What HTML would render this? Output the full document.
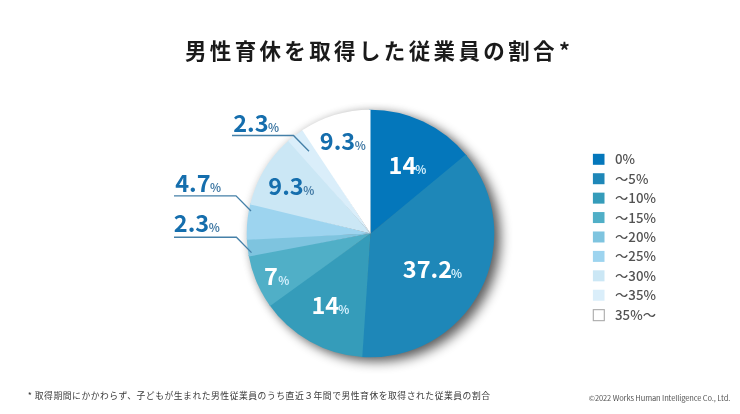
<!DOCTYPE html>
<html><head><meta charset="utf-8">
<style>
html,body{margin:0;padding:0;background:#fff;}
body{width:740px;height:414px;position:relative;overflow:hidden;font-family:"Liberation Sans","Noto Sans CJK JP",sans-serif;}
svg{position:absolute;left:0;top:0;will-change:transform;}
.lbl{font-family:"Noto Sans CJK JP","Liberation Sans",sans-serif;font-weight:700;}
.pct{font-family:"Noto Sans CJK JP","Liberation Sans",sans-serif;font-weight:700;}
.leg{font-family:"Noto Sans CJK JP","Liberation Sans",sans-serif;font-weight:500;fill:#525252;}
</style></head><body>
<svg width="740" height="414" viewBox="0 0 740 414">
<defs>
<clipPath id="pc"><circle cx="370.5" cy="233.5" r="123.8"/></clipPath>
<filter id="sh" x="-20%" y="-20%" width="140%" height="140%">
<feGaussianBlur stdDeviation="6"/>
</filter>
<filter id="sh2" x="-20%" y="-20%" width="140%" height="140%">
<feGaussianBlur stdDeviation="4"/>
</filter>
</defs>
<text x="184.9" y="58.6" font-family="&quot;Noto Sans CJK JP&quot;, &quot;Liberation Sans&quot;, sans-serif" font-weight="700" font-size="21.5" letter-spacing="3.37" fill="#1a1a1a">男性育休を取得した従業員の割<tspan>合</tspan><tspan dx="1.1">*</tspan></text>
<circle cx="370.5" cy="233.5" r="123.8" fill="#000" opacity="0.12" filter="url(#sh2)"/>
<circle cx="377.0" cy="238.0" r="123.8" fill="#000" opacity="0.6" filter="url(#sh)"/>
<path d="M370.5,233.5 L368.988,109.709 A123.8,123.8 0 0 1 466.779,155.674 Z" fill="#0477bb"/>
<path d="M370.5,233.5 L465.821,154.504 A123.8,123.8 0 0 1 360.787,356.918 Z" fill="#1e87b8"/>
<path d="M370.5,233.5 L362.295,357.028 A123.8,123.8 0 0 1 269.213,304.686 Z" fill="#359cba"/>
<path d="M370.5,233.5 L270.090,305.918 A123.8,123.8 0 0 1 248.581,254.998 Z" fill="#50afc7"/>
<path d="M370.5,233.5 L248.853,256.486 A123.8,123.8 0 0 1 246.791,238.252 Z" fill="#7ec4df"/>
<path d="M370.5,233.5 L246.859,239.763 A123.8,123.8 0 0 1 250.536,202.922 Z" fill="#9dd4ef"/>
<path d="M370.5,233.5 L250.171,204.389 A123.8,123.8 0 0 1 289.247,140.095 Z" fill="#cbe7f5"/>
<path d="M370.5,233.5 L288.112,141.095 A123.8,123.8 0 0 1 303.527,129.379 Z" fill="#daeefa"/>
<path d="M370.5,233.5 L302.260,130.205 A123.8,123.8 0 0 1 370.500,109.700 Z" fill="#ffffff"/>
<g fill="none" stroke="#4580a8" stroke-width="1.35">
<polyline points="232,135.5 293.5,135.5 309,151.3"/>
<polyline points="174,195.8 236,195.8 251,211"/>
<polyline points="174,237.2 236.4,237.2 251.5,252.6"/>
</g>
<g class="lbl" font-size="23.5">
<text x="233.2" y="131.5" fill="#156ead">2.3<tspan class="pct" font-size="11.5" dx="-0.5" fill="#457ca6">%</tspan></text>
<text x="175.2" y="192" fill="#156ead">4.7<tspan class="pct" font-size="11.5" dx="-0.5" fill="#457ca6">%</tspan></text>
<text x="173.8" y="231.8" fill="#156ead">2.3<tspan class="pct" font-size="11.5" dx="-0.5" fill="#457ca6">%</tspan></text>
<text x="319.8" y="149.5" fill="#156ead">9.3<tspan class="pct" font-size="11.5" dx="-0.5" fill="#457ca6">%</tspan></text>
<text x="268.3" y="195" fill="#156ead">9.3<tspan class="pct" font-size="11.5" dx="-0.5" fill="#457ca6">%</tspan></text>
<text x="388.6" y="173.8" fill="#fff">14<tspan class="pct" font-size="11.5" dx="-1" fill="#d2effc">%</tspan></text>
<text x="402.8" y="278" fill="#fff">37.2<tspan class="pct" font-size="11.5" dx="-1" fill="#d2effc">%</tspan></text>
<text x="311.4" y="313.5" fill="#fff">14<tspan class="pct" font-size="11.5" dx="-1" fill="#d2effc">%</tspan></text>
<text x="264.1" y="284.8" fill="#fff">7<tspan class="pct" font-size="11.5" dx="0.3" fill="#d2effc">%</tspan></text>
</g>
<rect x="592.9" y="153.80" width="11.6" height="11" fill="#0477bb"/>
<text class="leg" x="615" y="164.30" font-size="13.3">0%</text>
<rect x="592.9" y="173.22" width="11.6" height="11" fill="#1e87b8"/>
<text class="leg" x="615" y="183.72" font-size="13.3">～5%</text>
<rect x="592.9" y="192.64" width="11.6" height="11" fill="#359cba"/>
<text class="leg" x="615" y="203.14" font-size="13.3">～10%</text>
<rect x="592.9" y="212.06" width="11.6" height="11" fill="#50afc7"/>
<text class="leg" x="615" y="222.56" font-size="13.3">～15%</text>
<rect x="592.9" y="231.48" width="11.6" height="11" fill="#7ec4df"/>
<text class="leg" x="615" y="241.98" font-size="13.3">～20%</text>
<rect x="592.9" y="250.90" width="11.6" height="11" fill="#9dd4ef"/>
<text class="leg" x="615" y="261.40" font-size="13.3">～25%</text>
<rect x="592.9" y="270.32" width="11.6" height="11" fill="#cbe7f5"/>
<text class="leg" x="615" y="280.82" font-size="13.3">～30%</text>
<rect x="592.9" y="289.74" width="11.6" height="11" fill="#daeefa"/>
<text class="leg" x="615" y="300.24" font-size="13.3">～35%</text>
<rect x="593.3" y="309.66" width="11" height="11" fill="#fff" stroke="#aaa" stroke-width="1.1"/>
<text class="leg" x="615" y="319.66" font-size="13.3">35%～</text>
<text x="27.7" y="399.3" font-family="&quot;Noto Sans CJK JP&quot;, &quot;Liberation Sans&quot;, sans-serif" font-size="8.8" letter-spacing="0.52" fill="#3a3a3a">* 取得期間にかかわらず、子どもが生まれた男性従業員のうち直近３年間で男性育休を取得された従業員の割合</text>
<text x="730.2" y="401.1" text-anchor="end" font-family="&quot;Noto Sans CJK JP&quot;, &quot;Liberation Sans&quot;, sans-serif" font-size="7.5" fill="#555" letter-spacing="-0.12">©2022 Works Human Intelligence Co., Ltd.</text>
</svg>
</body></html>
